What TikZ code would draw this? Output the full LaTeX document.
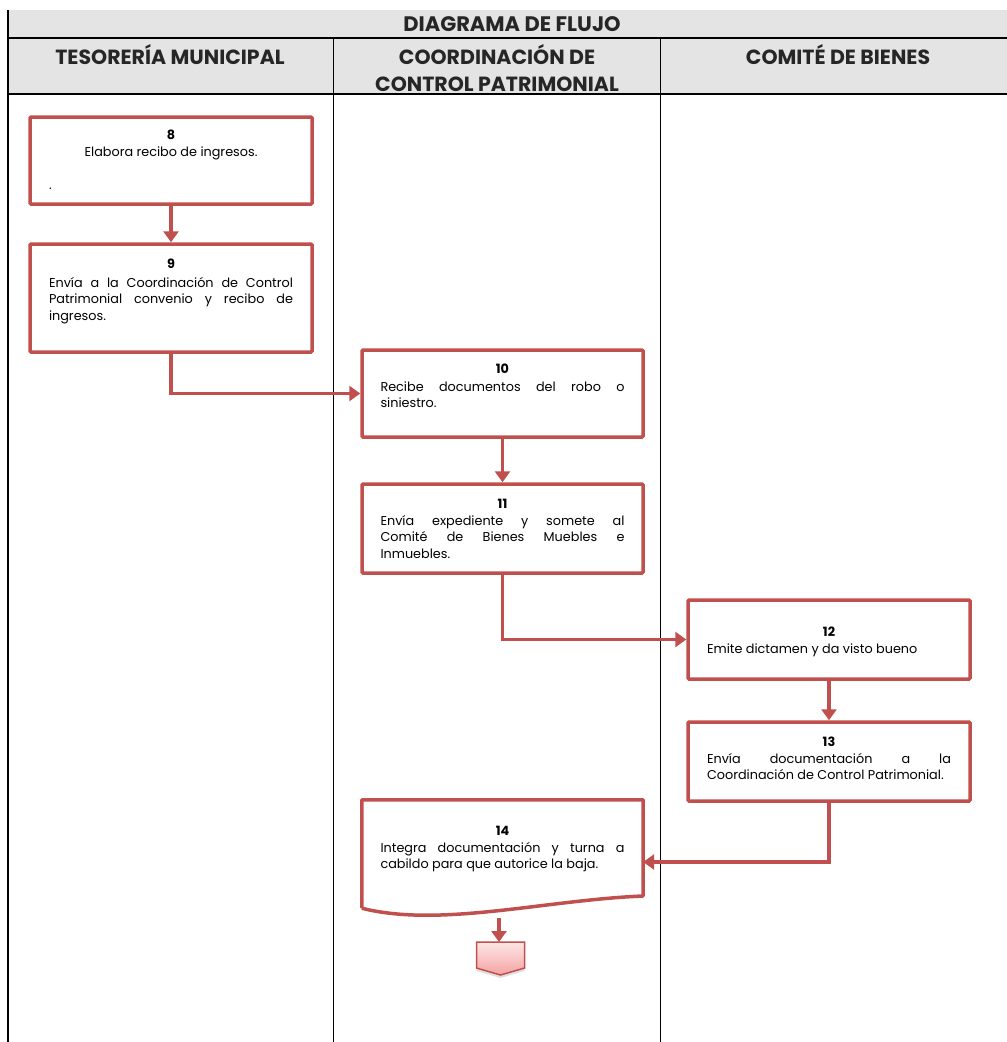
\documentclass[tikz,border=0pt]{standalone}
\usepackage{fontspec}
\setmainfont{Poppins}
\usetikzlibrary{arrows.meta,shadows}
\definecolor{boxred}{HTML}{C0504D}
\definecolor{hdrgray}{HTML}{E4E4E4}
\definecolor{offtop}{HTML}{FDE6E6}
\definecolor{offbot}{HTML}{F5A3A3}
\setlength\parindent{0pt}
\begin{document}
\begin{tikzpicture}[x=1pt,y=-1pt,
  lane/.style={draw=black,line width=1.2pt},
  hdr/.style={font=\bfseries\fontsize{20.5}{27}\selectfont,text=black!85,align=center,inner sep=0pt},
  stepbox/.style={draw=boxred,line width=3.5pt,rounded corners=1pt,minimum width=#1,inner sep=0pt},
  txt/.style={text width=244pt,align=justify,inner sep=0pt,anchor=base,
              font=\fontsize{12.8}{16.5}\selectfont},
  flow/.style={draw=boxred,line width=3.5pt,-{Triangle[width=15pt,length=11pt]}},
]
\useasboundingbox (0,0) rectangle (1007,1042);
% header
\fill[hdrgray] (8,10) rectangle (1007,94);
\draw[lane] (8,10) -- (8,1042);
\draw[lane] (8,38) -- (1007,38);
\draw[lane] (8,94) -- (1007,94);
\draw[lane] (333.5,38) -- (333.5,1042);
\draw[lane] (660.5,38) -- (660.5,1042);
\node[hdr,font=\bfseries\fontsize{21}{27}\selectfont] (title) at (512,24) {DIAGRAMA DE FLUJO};
\node[hdr] (h1) at (170,55) {TESORERÍA MUNICIPAL};
\node[hdr] (h2) at (497,68) {COORDINACIÓN DE\\CONTROL PATRIMONIAL};
\node[hdr] (h3) at (838,55) {COMITÉ DE BIENES};

% boxes
\node[stepbox=282pt,minimum height=87pt] (b8) at (171,160.5) {};
\node[stepbox=282pt,minimum height=108pt] (b9) at (171,298) {};
\node[stepbox=281pt,minimum height=87pt] (b10) at (502.5,393.5) {};
\node[stepbox=281pt,minimum height=89pt] (b11) at (502.5,528.5) {};
\node[stepbox=282pt,minimum height=79pt] (b12) at (829,639.5) {};
\node[stepbox=282pt,minimum height=79pt] (b13) at (829,761.5) {};
\node[minimum width=281pt,minimum height=108pt,inner sep=0pt] (b14) at (502.5,854) {};
\draw[boxred,line width=3.5pt,line join=round]
  (b14.south west) -- (b14.north west) -- (b14.north east) -- (643,896)
  .. controls (545,900) and (440,928) .. (b14.south west);

% texts
\node[txt] (t8) at (171,139.5) {{\centering\textbf{8}\\Elabora recibo de ingresos.\par}\vspace{16.5pt}.};
\node[txt] (t9) at (171,268.5) {{\centering\textbf{9}\par}\vspace{2pt}Envía a la Coordinación de Control\linebreak Patrimonial convenio y recibo de\linebreak ingresos.};
\node[txt] (t10) at (502.5,373.5) {{\centering\textbf{10}\par}\vspace{1pt}Recibe documentos del robo o\linebreak siniestro.};
\node[txt] (t11) at (502.5,508.5) {{\centering\textbf{11}\par}Envía expediente y somete al\linebreak Comité de Bienes Muebles e\linebreak Inmuebles.};
\node[txt] (t12) at (829,636.5) {{\centering\textbf{12}\par}Emite dictamen y da visto bueno};
\node[txt] (t13) at (829,746.5) {{\centering\textbf{13}\par}Envía documentación a la\linebreak Coordinación de Control Patrimonial.};
\node[txt] (t14) at (502.5,835.5) {{\centering\textbf{14}\par}Integra documentación y turna a\linebreak cabildo para que autorice la baja.};

% off-page connector
\coordinate (off) at (500.5,942);
\coordinate (b14out) at (499,918);
\path[draw=boxred,line width=1.5pt,top color=offtop,bottom color=offbot,
      drop shadow={opacity=0.25,shadow xshift=0pt,shadow yshift=-3pt}]
  (off) ++(-24,0) -- ++(48,0) -- ++(0,26) -- ++(-24,7) -- ++(-24,-7) -- cycle;

% connectors
\draw[flow] (b8.south) -- (b9.north);
\draw[flow] (b9.south) |- (b10.west);
\draw[flow] (b10.south) -- (b11.north);
\draw[flow] (b11.south) |- (b12.west);
\draw[flow] (b12.south) -- (b13.north);
\draw[flow] (b13.south) |- ([yshift=-8pt]b14.east);
\draw[flow] (b14out) -- ([xshift=-1.5pt]off);
\end{tikzpicture}
\end{document}
